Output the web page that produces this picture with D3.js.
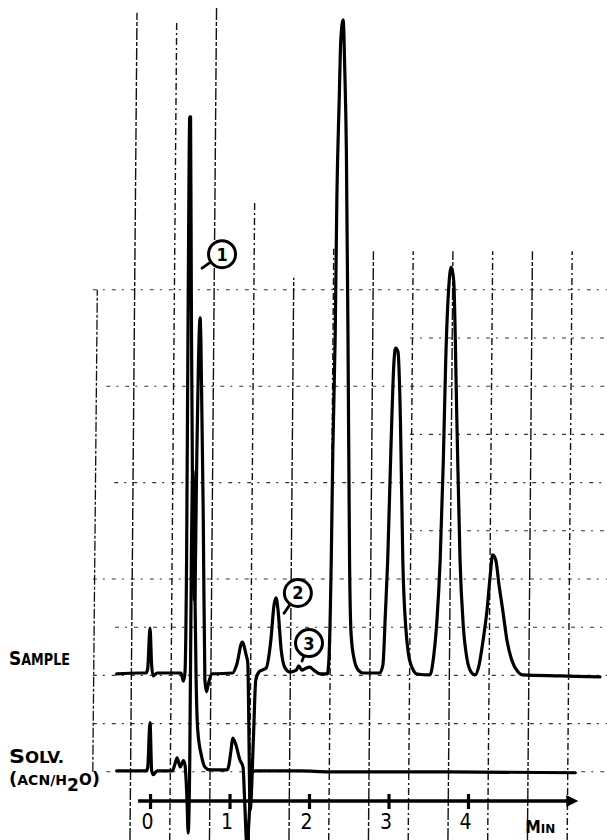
<!DOCTYPE html>
<html><head><meta charset="utf-8">
<script src="https://cdn.jsdelivr.net/npm/d3@7"></script>
<style>html,body{margin:0;padding:0;background:#fff;} svg{display:block;}</style>
</head><body><svg id="chart" width="607" height="840"></svg>
<script>
// ---- data (minutes, detector signal in chart divisions) ----
const minuteTicks = [0, 1, 2, 3, 4];
const axisLabel = "MIN";

const sampleTrace = [
  [-0.42,-0.02],[-0.13,0],[-0.05,0],[-0.03,0.08],[0,0.93],[0.02,0.17],[0.04,-0.06],[0.09,0],
  [0.39,0],[0.42,-0.17],[0.44,0.02],[0.46,2.34],[0.48,7.74],[0.50,11.54],[0.51,11.54],[0.52,7.74],
  [0.54,2.34],[0.56,1.51],[0.59,4.63],[0.62,7.12],[0.63,7.37],[0.64,6.91],[0.67,3.17],[0.69,-0.15],
  [0.71,-0.39],[0.73,-0.25],[0.78,-0.02],[1.04,0],[1.09,0.17],[1.16,0.64],[1.21,0.37],[1.23,0.21],
  [1.26,-2.84],[1.30,-1.39],[1.33,-0.15],[1.37,0.02],[1.41,0.06],[1.46,0.10],[1.52,0.68],[1.56,1.41],
  [1.585,1.56],[1.61,1.31],[1.65,0.48],[1.70,0.10],[1.76,0.02],[1.84,0.06],[1.87,0.15],[1.91,0.06],
  [1.96,0.10],[2.01,0.12],[2.06,0.06],[2.14,-0.02],[2.23,-0.02],[2.25,0.27],[2.28,2.34],[2.30,4.63],
  [2.33,7.05],[2.35,9.81],[2.38,11.89],[2.40,13.13],[2.43,13.55],[2.45,12.51],[2.47,10.85],[2.49,7.05],
  [2.51,2.34],[2.53,0.79],[2.57,0.27],[2.62,0.06],[2.68,0],[2.89,0],[2.93,0.17],[2.96,1.20],
  [2.99,2.34],[3.03,4.63],[3.07,6.49],[3.09,6.74],[3.12,6.66],[3.15,5.25],[3.18,2.34],[3.22,0.89],
  [3.25,0.41],[3.30,0.10],[3.36,-0.02],[3.52,-0.04],[3.57,0.37],[3.61,1.10],[3.65,2.34],[3.69,4.42],
  [3.72,6.49],[3.76,8.05],[3.79,8.42],[3.82,8.15],[3.86,5.25],[3.90,2.34],[3.94,1.00],[3.99,0.27],
  [4.04,0.02],[4.09,-0.04],[4.14,0.17],[4.19,0.68],[4.24,1.31],[4.28,2.03],[4.31,2.45],[4.35,2.34],
  [4.39,1.83],[4.44,1.27],[4.49,0.68],[4.55,0.27],[4.63,0.02],[4.69,-0.04],[5.16,-0.06],[5.66,-0.08]
];

const solventTrace = [
  [-0.42,0],[-0.05,0],[-0.03,0.06],[0,1.0],[0.02,0.02],[0.04,-0.08],[0.09,0],[0.28,0],
  [0.31,0.12],[0.34,0.27],[0.38,0.08],[0.42,0.21],[0.44,0.12],[0.465,-0.60],[0.48,-1.29],[0.50,0.23],
  [0.52,4.38],[0.54,6.24],[0.56,4.38],[0.58,1.89],[0.60,0.85],[0.65,0.29],[0.69,0.08],[0.75,0.02],
  [0.97,0.02],[0.99,0.10],[1.02,0.44],[1.04,0.68],[1.08,0.54],[1.13,0.23],[1.17,0.08],[1.19,-0.60],
  [1.22,-1.60],[1.245,-1.02],[1.28,-0.04],[1.33,0],[1.89,0],[2.26,-0.02],[3.75,-0.02],[5.35,-0.04]
];

// chart-paper grid (minutes / divisions)
const paperGridMinutes = [-0.25,0.25,0.75,1.25,1.75,2.25,2.75,3.25,3.75,4.25,4.75,5.25];
const paperGridTops    = [13.7,13.5,13.8,9.8,8.2,8.8,8.75,8.75,8.75,8.75,8.75,8.75];
const paperGridLevels  = [7.95,6.95,5.95,4.95,3.95,2.95,1.95,0.95,-0.05,-1.05,-2.05];
const paperGridStarts  = [-0.72,3.27,-0.55,3.27,-0.45,3.27,-0.72,-0.44,-0.72,-0.72,-0.55];

const peakLabels = [
  {num:"1", t:0.906, v:8.69, tipT:0.654, tipV:8.40},
  {num:"2", t:1.86,  v:1.66, tipT:1.686, tipV:1.24},
  {num:"3", t:2.00,  v:0.62, tipT:1.912, tipV:0.25}
];

// ---- drawing ----
const svg = d3.select('#chart');
const W = 607, H = 840;
const x = d3.scaleLinear().domain([-0.15, 5.35]).range([138.1, 575.3]);
const y = d3.scaleLinear().domain([0, 10]).range([673, 191]);
const solventOffset = -2.03;
const skew = 0.0085, skewRef = 820;
const font = '"DejaVu Sans Condensed","Liberation Sans Narrow","DejaVu Sans",sans-serif';

svg.append('rect').attr('width', W).attr('height', H).attr('fill', '#fff');

const grid = svg.append('g');
// horizontal paper lines
grid.selectAll('line.h').data(paperGridLevels).join('line')
  .attr('x1', (d,i) => x(paperGridStarts[i])).attr('x2', W)
  .attr('y1', d => y(d)).attr('y2', d => y(d))
  .attr('stroke', '#333').attr('stroke-width', 1.1)
  .attr('stroke-dasharray', '4,6,2,7');
// vertical paper lines (slightly skewed scan)
grid.selectAll('line.v').data(paperGridMinutes).join('line')
  .attr('x1', d => x(d) + skew*(skewRef - H)).attr('y1', H)
  .attr('x2', (d,i) => x(d) + skew*(skewRef - y(paperGridTops[i])))
  .attr('y2', (d,i) => y(paperGridTops[i]))
  .attr('stroke', '#111').attr('stroke-width', 1.4)
  .attr('stroke-dasharray', (d,i) => i % 2 ? '7,3,2,3' : '12,2,4,2');
// left border of paper
grid.append('line')
  .attr('x1', x(-0.72)).attr('x2', x(-0.72) + skew*(skewRef - y(7.95)))
  .attr('y1', y(-2.05)).attr('y2', y(7.95))
  .attr('stroke', '#111').attr('stroke-width', 1.3).attr('stroke-dasharray', '10,2,3,2');

// traces
const line = d3.line().x(d => x(d[0])).y(d => y(d[1])).curve(d3.curveMonotoneX);
const solvLine = d3.line().x(d => x(d[0])).y(d => y(d[1] + solventOffset)).curve(d3.curveMonotoneX);
svg.append('path').attr('d', solvLine(solventTrace))
  .attr('fill', 'none').attr('stroke', '#000').attr('stroke-width', 3.2)
  .attr('stroke-linejoin', 'round').attr('stroke-linecap', 'round');
svg.append('path').attr('d', line(sampleTrace))
  .attr('fill', 'none').attr('stroke', '#000').attr('stroke-width', 3.2)
  .attr('stroke-linejoin', 'round').attr('stroke-linecap', 'round');

// time axis
const axisY = 801;
const axis = d3.axisBottom(x).tickValues(minuteTicks).tickFormat(d3.format('d')).tickSizeOuter(0);
const ag = svg.append('g').attr('transform', `translate(0,${axisY})`).call(axis);
ag.select('.domain').remove();
ag.selectAll('.tick line').attr('y1', -7).attr('y2', 8).attr('stroke', '#000').attr('stroke-width', 3.2);
ag.selectAll('.tick text').attr('y', 13).attr('dy', '0.71em').attr('dx', -3)
  .attr('font-family', font).attr('font-size', 21).attr('fill', '#000');
ag.append('line').attr('x1', x(-0.15)).attr('x2', x(5.35) - 6).attr('y1', 0).attr('y2', 0)
  .attr('stroke', '#000').attr('stroke-width', 3.4);
ag.append('path')
  .attr('d', `M${x(5.35)-9},-6 L${x(5.35)+3},0 L${x(5.35)-9},6 Z`).attr('fill', '#000');
const mt = svg.append('text').attr('x', x(4.72)).attr('y', 833)
  .attr('font-family', font).attr('font-weight', 'bold').attr('fill', '#000')
  .attr('textLength', 30).attr('lengthAdjust', 'spacingAndGlyphs');
mt.append('tspan').attr('font-size', 17).text(axisLabel[0]);
mt.append('tspan').attr('font-size', 13).text(axisLabel.slice(1));

// left labels
function capsText(px, py, big, small, len) {
  const t = svg.append('text').attr('x', px).attr('y', py)
    .attr('font-family', font).attr('font-weight', 'bold').attr('fill', '#000')
    .attr('textLength', len).attr('lengthAdjust', 'spacingAndGlyphs');
  t.append('tspan').attr('font-size', 20).text(big);
  t.append('tspan').attr('font-size', 15).text(small);
  return t;
}
capsText(9, 665, 'S', 'AMPLE', 61);
capsText(9, 763, 'S', 'OLV.', 55);
const acn = svg.append('text').attr('x', 9).attr('y', 785)
  .attr('font-family', font).attr('font-weight', 'bold').attr('fill', '#000')
  .attr('textLength', 91).attr('lengthAdjust', 'spacingAndGlyphs');
acn.append('tspan').attr('font-size', 18).text('(');
acn.append('tspan').attr('font-size', 14).text('ACN/H');
acn.append('tspan').attr('font-size', 17).attr('dy', 6).text('2');
acn.append('tspan').attr('font-size', 15).attr('dy', -6).text('O');
acn.append('tspan').attr('font-size', 18).text(')');

// peak number callouts
const R = 13.5;
const pl = svg.append('g').selectAll('g').data(peakLabels).join('g');
function edge(d, k) {
  const cx = x(d.t), cy = y(d.v), tx = x(d.tipT), ty = y(d.tipV);
  const L = Math.hypot(tx-cx, ty-cy);
  return k === 'x' ? cx + (tx-cx)/L*R : cy + (ty-cy)/L*R;
}
pl.append('line')
  .attr('x1', d => edge(d,'x')).attr('y1', d => edge(d,'y'))
  .attr('x2', d => x(d.tipT)).attr('y2', d => y(d.tipV))
  .attr('stroke', '#000').attr('stroke-width', 2.8).attr('stroke-linecap', 'round');
pl.append('circle').attr('cx', d => x(d.t)).attr('cy', d => y(d.v)).attr('r', R)
  .attr('fill', '#fff').attr('stroke', '#000').attr('stroke-width', 3);
pl.append('text').attr('x', d => x(d.t)).attr('y', d => y(d.v)).attr('dy', '0.36em')
  .attr('text-anchor', 'middle').attr('font-family', font).attr('font-size', 18)
  .attr('font-weight', 'bold').attr('fill', '#000').text(d => d.num);
</script></body></html>
